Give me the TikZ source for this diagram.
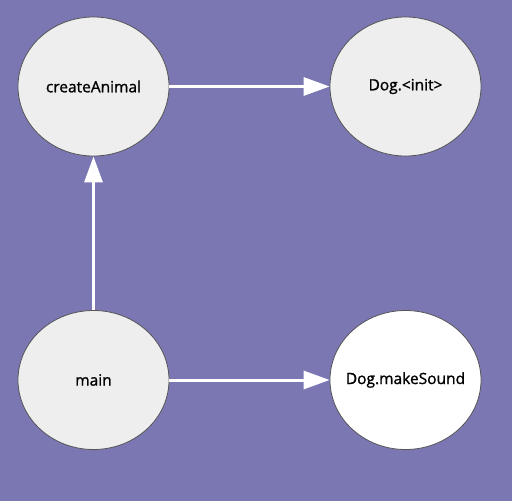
\documentclass[tikz,border=0pt]{standalone}
\usepackage{fontspec}
\setmainfont{Open Sans}
\newfontfamily\cgfont{Open Sans}[FakeBold=1.2]
\usetikzlibrary{arrows.meta,positioning,shapes.geometric}
\definecolor{cgbg}{HTML}{7A77B3}
\definecolor{cgnode}{HTML}{EEEEEE}
\definecolor{cgline}{HTML}{555555}
\tikzset{
  fnode/.style={draw=cgline, line width=0.8pt, fill=cgnode, ellipse,
                minimum width=151pt, minimum height=139pt, inner ysep=0pt, inner xsep=-18pt,
                font=\cgfont\fontsize{15.5}{18}\selectfont, text=black},
  leafnode/.style={fnode, fill=white},
  callarr/.style={-{Triangle[length=26pt,width=18pt]}, line width=3pt, color=white}}

\begin{document}
\begin{tikzpicture}[x=1pt, y=-1pt]
    \fill[cgbg] (0,0) rectangle (512,501);
    \useasboundingbox (0,0) rectangle (512,501);
    \node[fnode] (create) at (93.5,86.5) {createAnimal};
    \node[fnode] (init) at (405.5,86.5) {Dog.<init>};
    \node[fnode] (main) at (93.5,380) {main};
    \node[leafnode] (sound) at (405.5,380) {Dog.makeSound};
    \draw[callarr] (create) -- (init);
    \draw[callarr] (main) -- (create);
    \draw[callarr] (main) -- (sound);
  \end{tikzpicture}
\end{document}
